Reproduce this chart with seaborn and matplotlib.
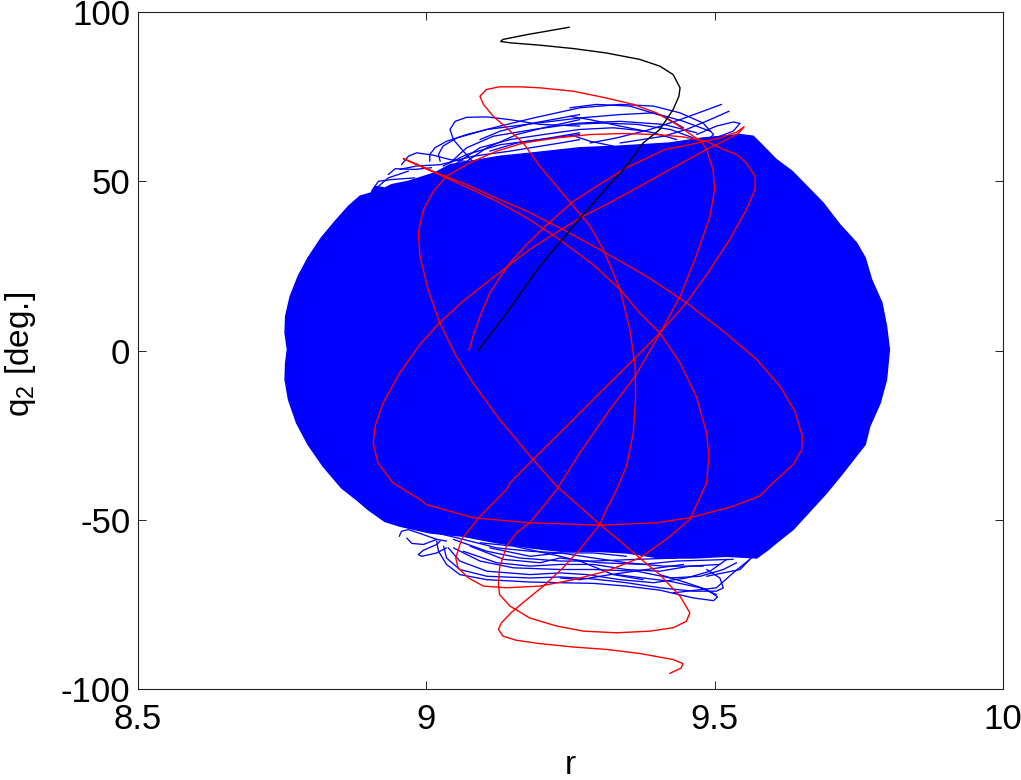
import matplotlib
matplotlib.use("Agg")
import matplotlib.pyplot as plt
import seaborn as sns

# values
body_r = [8.911, 8.928, 8.940, 8.969, 9.015, 9.041, 9.128, 9.186, 9.266, 9.336, 9.422, 9.480, 9.544,
          9.567, 9.584, 9.607, 9.634, 9.660, 9.688, 9.717, 9.746, 9.761, 9.772, 9.790, 9.798, 9.803,
          9.798, 9.787, 9.769, 9.761, 9.743, 9.720, 9.694, 9.665, 9.636, 9.610, 9.593, 9.573,
          9.521, 9.463, 9.405, 9.347, 9.290, 9.232, 9.180, 9.122, 9.064, 9.006, 8.954, 8.928, 8.899, 8.882,
          8.853, 8.821, 8.795, 8.775, 8.761, 8.755, 8.756, 8.759, 8.755, 8.756, 8.764, 8.778, 8.795, 8.818,
          8.842, 8.865, 8.885, 8.905]
body_q = [48.5, 48.0, 49.0, 50.0, 52.5, 54.9, 57.4, 58.4, 59.9, 60.4, 61.3, 62.8, 63.8,
          63.3, 60.4, 56.4, 53.0, 48.5, 43.6, 37.2, 31.8, 27.4, 21.0, 14.1, 7.2, 0.3,
          -8.6, -15.5, -22.4, -27.8, -31.7, -36.7, -42.1, -47.5, -52.9, -56.4, -58.8, -61.3,
          -60.8, -61.3, -61.3, -59.8, -59.3, -59.3, -58.3, -56.8, -54.9, -53.9, -51.9, -50.5, -47.0, -44.5,
          -40.6, -34.2, -27.8, -21.4, -14.5, -8.6, -3.7, 0.3, 5.2, 10.1, 16.0, 22.0, 27.4, 33.3,
          38.2, 42.6, 45.6, 46.6]

# blue loops sticking out above the filled part
top_r = [
    [9.079, 9.064, 9.047, 9.041, 9.050, 9.070, 9.105, 9.145, 9.197, 9.266],
    [9.006, 9.006, 9.015, 9.035, 9.070, 9.128, 9.186, 9.266, 9.336, 9.394, 9.440, 9.480, 9.498, 9.489],
    [9.024, 9.021, 9.029, 9.053, 9.105, 9.174, 9.266, 9.336, 9.394, 9.446, 9.492],
    [8.957, 8.969, 8.983, 9.012, 9.041, 9.076],
    [9.041, 9.070, 9.116, 9.186, 9.266, 9.336, 9.411, 9.469],
    [9.053, 9.093, 9.145, 9.203, 9.266, 9.324, 9.382],
    [9.070, 9.105, 9.157, 9.203, 9.266],
    [9.512, 9.480, 9.440, 9.388, 9.330, 9.284],
    [9.525, 9.492, 9.451, 9.411, 9.336],
    [9.469, 9.503, 9.532, 9.544, 9.532, 9.509],
    [9.249, 9.284, 9.336, 9.394, 9.434],
    [9.249, 9.295, 9.353, 9.411, 9.446],
    [8.954, 8.983, 9.024, 9.081, 9.145, 9.232, 9.266],
    [9.029, 9.070, 9.128, 9.197, 9.266],
    [8.905, 8.917, 8.940, 8.980],
    [8.934, 8.946, 8.980, 9.009],
    [8.917, 8.934, 8.969],
    [9.110, 9.157, 9.214, 9.266],
    [9.093, 9.128, 9.186, 9.266],
    [9.249, 9.307, 9.365, 9.423, 9.463],
    [9.249, 9.284, 9.324],
]
top_q = [
    [56.1, 58.9, 62.3, 65.3, 67.7, 68.9, 69.0, 68.2, 66.8, 66.3],
    [55.9, 57.9, 59.9, 61.8, 63.8, 66.3, 68.7, 71.7, 72.7, 72.2, 70.2, 67.2, 63.8, 62.3],
    [55.9, 57.9, 60.4, 62.8, 65.3, 66.8, 68.7, 69.7, 70.2, 67.7, 64.8],
    [54.9, 57.4, 58.4, 57.7, 56.4, 55.7],
    [55.4, 59.9, 63.3, 65.3, 67.2, 67.7, 66.8, 64.3],
    [55.4, 59.9, 62.3, 63.8, 65.3, 65.8, 64.8],
    [55.9, 59.9, 63.8, 65.8, 68.2],
    [72.7, 70.7, 68.2, 65.3, 62.8, 61.3],
    [70.7, 68.2, 65.3, 63.3, 61.3],
    [63.8, 66.3, 67.5, 67.1, 64.8, 63.3],
    [69.2, 68.2, 66.3, 64.3, 62.3],
    [71.7, 72.7, 72.2, 69.2, 65.8],
    [53.5, 54.5, 54.9, 57.4, 58.9, 61.3, 62.3],
    [54.5, 57.9, 60.8, 62.3, 63.8],
    [47.1, 50.0, 50.5, 51.0],
    [52.0, 53.7, 53.5, 54.0],
    [48.5, 51.0, 53.0],
    [58.9, 61.3, 62.8, 64.3],
    [62.3, 64.8, 67.2, 69.7],
    [66.8, 67.2, 66.8, 65.3, 62.8],
    [63.8, 61.8, 60.4],
]

# blue loops sticking out below the filled part
low_r = [
    [8.953, 8.957, 8.969, 8.995, 9.018],
    [8.966, 8.975, 8.995, 9.018, 9.035],
    [9.024, 9.018, 8.995, 8.986, 8.992, 9.018, 9.035],
    [9.018, 9.021, 9.035, 9.058, 9.105, 9.180, 9.232, 9.290, 9.347, 9.405, 9.463, 9.498, 9.505, 9.486, 9.451, 9.405],
    [9.030, 9.035, 9.058, 9.105, 9.180, 9.232, 9.290, 9.347, 9.405, 9.463, 9.503, 9.515, 9.509, 9.486],
    [9.038, 9.058, 9.105, 9.180, 9.232, 9.278, 9.336, 9.394, 9.451, 9.492, 9.521],
    [9.047, 9.093, 9.151, 9.232, 9.290, 9.365, 9.423, 9.475, 9.515, 9.538],
    [9.064, 9.122, 9.180, 9.232, 9.290, 9.347, 9.405, 9.457, 9.509],
    [9.076, 9.134, 9.197, 9.232, 9.301, 9.376, 9.434, 9.532],
    [9.110, 9.180, 9.232, 9.290, 9.347, 9.411, 9.480],
    [9.093, 9.151, 9.232, 9.266, 9.324, 9.376],
    [9.232, 9.266, 9.319, 9.382, 9.446],
    [9.330, 9.376, 9.423, 9.475, 9.503],
    [9.428, 9.503, 9.532, 9.561],
    [9.486, 9.544, 9.572],
    [9.018, 9.064, 9.122, 9.180, 9.232, 9.290, 9.347],
    [9.047, 9.105, 9.162, 9.232, 9.290, 9.365, 9.434],
]
low_q = [
    [-54.9, -53.4, -52.9, -54.4, -55.8],
    [-55.4, -57.0, -57.3, -55.8, -56.3],
    [-56.3, -57.3, -59.0, -60.3, -60.8, -59.8, -58.3],
    [-56.3, -59.3, -63.2, -66.2, -67.7, -68.4, -68.6, -68.8, -69.6, -70.8, -73.1, -73.9, -72.8, -70.6, -68.6, -66.2],
    [-57.8, -61.3, -64.7, -66.7, -67.2, -66.9, -67.5, -68.6, -70.1, -71.1, -71.1, -70.1, -67.2, -64.7],
    [-58.3, -62.2, -65.2, -66.2, -65.7, -66.2, -67.7, -68.6, -67.2, -65.2, -61.7],
    [-58.3, -62.2, -64.2, -64.7, -64.7, -65.2, -67.2, -66.7, -64.7, -62.7],
    [-59.3, -62.7, -63.7, -63.2, -63.2, -64.7, -65.2, -63.7, -63.2],
    [-57.8, -61.7, -62.7, -61.3, -62.7, -63.2, -62.2, -61.7],
    [-58.3, -60.8, -59.8, -61.3, -62.7, -63.7, -63.7],
    [-56.8, -57.8, -60.8, -62.2, -66.2, -67.7],
    [-67.2, -67.7, -66.2, -64.7, -63.2],
    [-66.2, -67.2, -68.2, -70.1, -72.1],
    [-71.6, -70.1, -65.7, -61.7],
    [-66.7, -64.7, -59.8],
    [-53.9, -55.8, -58.3, -59.3, -59.8, -59.8, -60.8],
    [-55.8, -59.3, -61.3, -62.2, -62.2, -61.7, -61.3],
]

red_r = [9.074, 9.081, 9.093, 9.110, 9.127, 9.145, 9.174, 9.203, 9.229, 9.255, 9.295, 9.347, 9.414, 9.457, 9.509,
         9.538, 9.551, 9.541, 9.509, 9.486, 9.428, 9.370, 9.312, 9.272, 9.220, 9.179, 9.145, 9.104, 9.064, 9.023,
         8.989, 8.954, 8.925, 8.911, 8.908, 8.916, 8.942, 8.989, 9.000, 9.081, 9.179, 9.301, 9.399, 9.457, 9.532,
         9.578, 9.601, 9.636, 9.651, 9.652, 9.639, 9.613, 9.573, 9.515, 9.451, 9.382, 9.301, 9.237, 9.174, 9.127,
         9.070, 9.018, 8.960, 9.041, 9.122, 9.174, 9.231, 9.289, 9.336, 9.370, 9.405, 9.440, 9.468, 9.486, 9.490,
         9.486, 9.457, 9.416, 9.370, 9.312, 9.255, 9.197, 9.139, 9.099, 9.073, 9.055, 9.051, 9.061, 9.093, 9.139,
         9.145, 9.185, 9.243, 9.301, 9.359, 9.405, 9.451, 9.492, 9.526, 9.555, 9.570, 9.570, 9.555, 9.538, 9.515,
         9.486, 9.445, 9.399, 9.341, 9.284, 9.226, 9.168, 9.122, 9.075, 9.035, 9.012, 8.995, 8.986, 8.989, 9.003,
         9.023, 9.052, 9.081, 9.127, 9.185, 9.226, 9.272, 9.301, 9.336, 9.370, 9.405, 9.440, 9.457, 9.451, 9.428,
         9.388, 9.330, 9.272, 9.226, 9.179, 9.145, 9.127, 9.125, 9.127, 9.139, 9.156, 9.179, 9.203, 9.226, 9.266,
         9.318, 9.362, 9.399, 9.440, 9.468, 9.492, 9.500, 9.497, 9.486, 9.477, 9.463, 9.434, 9.399, 9.359, 9.312,
         9.255, 9.197, 9.162, 9.127, 9.104, 9.093, 9.099, 9.116, 9.139, 9.168, 9.197, 9.226, 9.255, 9.284, 9.307,
         9.336, 9.353, 9.362, 9.363, 9.359, 9.347, 9.330, 9.312, 9.301, 9.266, 9.237, 9.203, 9.174, 9.148, 9.130,
         9.125, 9.133, 9.156, 9.197, 9.255, 9.312, 9.370, 9.428, 9.445, 9.442, 9.422]
red_q = [0.0, 4.2, 10.1, 17.0, 21.5, 25.9, 31.3, 36.2, 40.2, 44.1, 48.5, 54.0, 59.4, 60.8, 62.8,
         64.5, 66.1, 64.1, 61.3, 59.4, 54.0, 48.5, 43.1, 39.7, 34.3, 29.8, 25.4, 20.0, 14.6, 8.2,
         1.8, -6.6, -15.5, -22.4, -27.3, -33.2, -39.1, -44.0, -45.5, -49.4, -50.9, -51.6, -50.9, -49.4, -46.0,
         -43.0, -39.1, -33.7, -29.3, -25.3, -17.9, -10.5, -2.7, 5.7, 14.1, 21.9, 29.8, 35.7, 41.2, 44.6,
         49.0, 52.5, 56.7, 50.5, 44.1, 39.2, 32.8, 25.4, 18.0, 11.1, 5.2, -3.7, -13.5, -24.3, -31.2,
         -39.1, -49.9, -55.8, -61.3, -65.2, -67.7, -69.6, -70.1, -69.6, -67.2, -64.2, -61.3, -55.8, -49.0, -41.1,
         -39.1, -32.2, -22.4, -12.5, -2.7, 5.2, 14.1, 23.9, 32.8, 41.6, 47.6, 51.5, 55.4, 57.9, 59.4,
         61.8, 63.1, 63.8, 64.1, 63.8, 62.8, 61.3, 58.9, 55.4, 51.5, 47.0, 41.6, 34.8, 27.9, 18.0,
         8.2, -1.7, -9.6, -20.4, -32.2, -40.1, -47.0, -51.4, -56.3, -61.3, -66.2, -72.6, -77.5, -80.0, -81.9,
         -82.9, -83.4, -82.9, -81.4, -79.0, -75.5, -72.1, -69.1, -64.2, -57.8, -53.9, -50.9, -46.0, -41.1, -30.3,
         -17.5, -7.6, 3.2, 16.0, 27.9, 39.7, 47.6, 53.5, 59.4, 61.8, 63.3, 66.8, 70.2, 72.7, 74.6,
         76.6, 77.6, 77.9, 77.9, 77.1, 75.1, 72.7, 69.2, 65.8, 61.3, 54.4, 48.5, 42.6, 36.7, 29.8,
         18.0, 6.2, -4.6, -13.5, -24.3, -34.2, -41.1, -47.0, -51.4, -58.8, -64.2, -69.6, -73.6, -77.3, -80.5,
         -82.4, -84.4, -85.6, -86.6, -87.6, -88.3, -89.5, -91.3, -92.5, -93.8, -95.4]

black_r = [9.090, 9.139, 9.197, 9.272, 9.347, 9.376, 9.405, 9.428, 9.438, 9.440, 9.428, 9.405, 9.370, 9.312, 9.255,
           9.197, 9.145, 9.129, 9.133, 9.174, 9.248]
black_q = [0.0, 11.1, 24.9, 40.2, 54.5, 61.3, 65.3, 71.2, 75.1, 77.6, 81.5, 84.0, 86.0, 87.9, 89.2,
           90.2, 90.9, 91.3, 91.9, 93.3, 95.5]

x_ticks = [8.5, 9, 9.5, 10]
x_labels = ["8.5", "9", "9.5", "10"]
y_ticks = [-100, -50, 0, 50, 100]

sns.set_style("ticks")
plt.rcParams["font.family"] = ["Liberation Sans", "DejaVu Sans"]
plt.rcParams["mathtext.default"] = "regular"
plt.rcParams["axes.unicode_minus"] = False
plt.rcParams["text.color"] = "black"
plt.rcParams["axes.labelcolor"] = "black"
plt.rcParams["xtick.labelcolor"] = "black"
plt.rcParams["ytick.labelcolor"] = "black"

fig = plt.figure(figsize=(10.21, 7.8), dpi=100)
ax = fig.add_axes([138 / 1021, 1 - 689 / 780, 865 / 1021, 677 / 780])

# filled part of the blue trajectory
ax.fill(body_r, body_q, color="#0000ff", lw=1)

for r, q in zip(top_r + low_r, top_q + low_q):
    sns.lineplot(x=r, y=q, ax=ax, color="#0000ff", lw=0.95, sort=False, estimator=None)
sns.lineplot(x=red_r, y=red_q, ax=ax, color="#ff0000", lw=1.0, sort=False, estimator=None)
sns.lineplot(x=black_r, y=black_q, ax=ax, color="black", lw=1.0, sort=False, estimator=None)

ax.set_xlim(8.5, 10)
ax.set_ylim(-100, 100)
ax.set_xticks(x_ticks)
ax.set_xticklabels(x_labels)
ax.set_yticks(y_ticks)
ax.tick_params(direction="in", length=5.8, width=0.7, top=True, right=True, labelsize=25, color="#222222")
ax.tick_params(axis="x", pad=10)
ax.tick_params(axis="y", pad=5.5)
for s in ax.spines.values():
    s.set_linewidth(0.8)
    s.set_color("#222222")
ax.set_xlabel("r", fontsize=24)
ax.set_ylabel("q$_2$ [deg.]", fontsize=24)
ax.xaxis.set_label_coords(0.5, -0.09)
ax.yaxis.set_label_coords(-0.116, 0.495)

fig.savefig("out.png", dpi=100)
